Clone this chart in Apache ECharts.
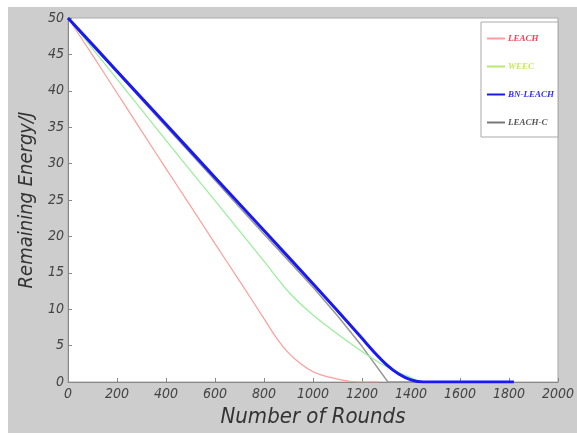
<!DOCTYPE html>
<html>
<head>
<meta charset="utf-8">
<script src="https://cdn.jsdelivr.net/npm/echarts@6/dist/echarts.min.js"></script>
<style>
  html, body { margin: 0; padding: 0; background: #ffffff; overflow: hidden; }
  #main { position: absolute; left: 8px; top: 7px; width: 569px; height: 426px; background: #cdcdcd; }
</style>
</head>
<body>
<div id="main"></div>
<script>
// 读图得到的数据 (rounds -> remaining energy)
var leachRounds = [0, 100, 200, 300, 400, 500, 600, 700, 800, 850, 900, 950, 1000, 1050, 1100, 1150, 1200, 1270];
var leachEnergy = [50, 44.9, 39.7, 34.5, 29.3, 24.2, 19.0, 13.9, 8.7, 6.1, 4.0, 2.5, 1.4, 0.8, 0.4, 0.1, 0, 0];

var weecRounds = [0, 200, 400, 600, 800, 900, 1000, 1100, 1200, 1300, 1400, 1450, 1500];
var weecEnergy = [50, 41.6, 33.2, 24.9, 16.6, 12.4, 9.2, 6.6, 4.2, 2.1, 0.6, 0, 0];

var bnRounds = [0, 200, 400, 600, 800, 1000, 1100, 1200, 1250, 1300, 1350, 1400, 1450, 1820];
var bnEnergy = [50, 42.7, 35.4, 28.1, 20.8, 13.5, 9.8, 6.0, 4.1, 2.4, 1.1, 0.3, 0, 0];

var leachcRounds = [0, 200, 400, 600, 800, 1000, 1100, 1200, 1306, 1410];
var leachcEnergy = [50, 42.5, 35.1, 27.7, 20.3, 13.0, 9.1, 4.9, 0, 0];

function pairs(xs, ys) {
  return xs.map(function (x, i) { return [x, ys[i]]; });
}

var font = "'Liberation Sans Narrow', 'DejaVu Sans Condensed', 'Liberation Sans', sans-serif";
var chart = echarts.init(document.getElementById('main'));

var option = {
  animation: false,
  grid: {
    left: 60, right: 19, top: 11, bottom: 47,
    show: true, backgroundColor: '#ffffff', borderColor: '#aaaaaa', borderWidth: 1
  },
  legend: {
    orient: 'vertical',
    right: 19, top: 15,
    width: 60,
    backgroundColor: '#ffffff',
    borderColor: '#aaaaaa', borderWidth: 1,
    padding: [12, 4, 10, 6],
    itemGap: 19,
    itemWidth: 18, itemHeight: 2,
    icon: 'rect',
    textStyle: { fontSize: 9, fontStyle: 'italic', fontWeight: 'bold', fontFamily: 'Liberation Serif, serif', padding: [0, 0, 0, -2] },
    data: [
      { name: 'LEACH', textStyle: { color: '#ee4455' } },
      { name: 'WEEC', textStyle: { color: '#c8e85a' } },
      { name: 'BN-LEACH', textStyle: { color: '#3333ee' } },
      { name: 'LEACH-C', textStyle: { color: '#555555' } }
    ]
  },
  xAxis: {
    type: 'value', min: 0, max: 2000, interval: 200,
    name: 'Number of Rounds', nameLocation: 'middle', nameGap: 24,
    nameTextStyle: { fontSize: 22, fontStyle: 'italic', color: '#333', fontFamily: font },
    axisLine: { lineStyle: { color: '#888' } },
    axisTick: { inside: true, length: 4, lineStyle: { color: '#888' } },
    axisLabel: {
      fontSize: 14, fontStyle: 'italic', color: '#444', fontFamily: font, margin: 5,
      formatter: function (v) { return String(v); }
    },
    splitLine: { show: false }
  },
  yAxis: {
    type: 'value', min: 0, max: 50, interval: 5,
    name: 'Remaining Energy/J', nameLocation: 'middle', nameGap: 28,
    nameTextStyle: { fontSize: 20, fontStyle: 'italic', color: '#333', fontFamily: font },
    axisLine: { show: true, lineStyle: { color: '#888' } },
    axisTick: { show: true, inside: true, length: 4, lineStyle: { color: '#888' } },
    axisLabel: { fontSize: 14, fontStyle: 'italic', color: '#444', fontFamily: font, margin: 4 },
    splitLine: { show: false }
  },
  series: [
    {
      name: 'LEACH', type: 'line', showSymbol: false, smooth: 0.3,
      lineStyle: { color: '#ff9c9c', width: 1.2 }, itemStyle: { color: '#ff9c9c' },
      data: pairs(leachRounds, leachEnergy)
    },
    {
      name: 'WEEC', type: 'line', showSymbol: false, smooth: 0.3,
      lineStyle: { color: '#99ee99', width: 1.2 }, itemStyle: { color: '#b8e870' },
      data: pairs(weecRounds, weecEnergy)
    },
    {
      name: 'LEACH-C', type: 'line', showSymbol: false,
      lineStyle: { color: '#999999', width: 1.5 }, itemStyle: { color: '#777777' },
      data: pairs(leachcRounds, leachcEnergy), z: 2
    },
    {
      name: 'BN-LEACH', type: 'line', showSymbol: false, smooth: 0.3,
      lineStyle: { color: '#1a1af0', width: 3 }, itemStyle: { color: '#1a1af0' },
      data: pairs(bnRounds, bnEnergy), z: 3
    }
  ]
};

chart.setOption(option);
</script>
</body>
</html>
